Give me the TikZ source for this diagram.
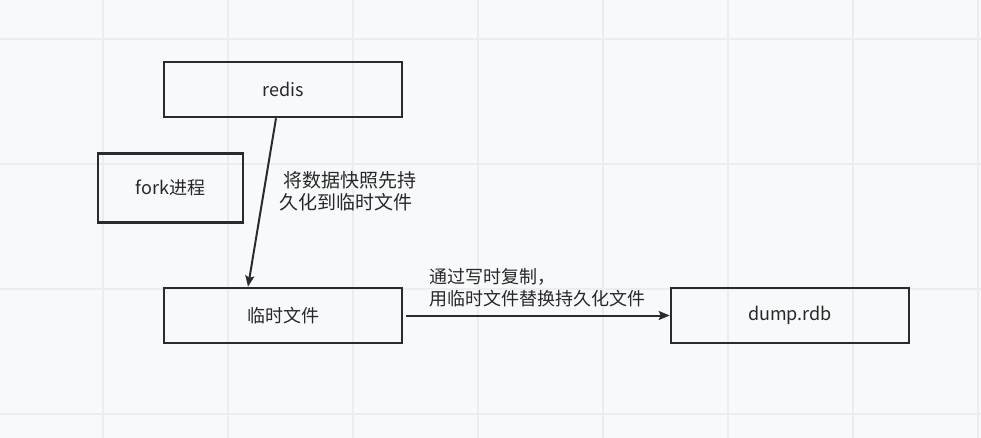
\documentclass[tikz,border=0pt]{standalone}
\usepackage{fontspec}
\setmainfont{Noto Sans CJK SC}
\usetikzlibrary{arrows.meta}
\definecolor{bgc}{RGB}{248,249,250}
\definecolor{gridc}{RGB}{236,237,239}
\definecolor{linec}{RGB}{40,43,47}
\definecolor{txtc}{RGB}{40,40,40}
\begin{document}
\begin{tikzpicture}[x=1pt,y=-1pt,
  box/.style={draw=linec,line width=2.6pt,fill=none,inner sep=0pt,
    minimum width=238pt,minimum height=55pt,text=txtc,font=\fontsize{18}{21}\selectfont},
  arr/.style={draw=linec,line width=2pt,-{Stealth[length=11pt,width=9pt,inset=2pt]}},
  lbl/.style={text=txtc,align=left,inner sep=0pt,anchor=west}]
\fill[bgc] (0,0) rectangle (981,438);
\useasboundingbox (0,0) rectangle (981,438);
\foreach \x in {103,228,353,478,603,728,853,978}
  \draw[gridc,line width=1.5pt] (\x,0) -- (\x,438);
\foreach \y in {39,164,289,414}
  \draw[gridc,line width=1.5pt] (0,\y) -- (981,\y);
\node[box] (redis) at (283,89.5) {redis};
\node[box,minimum width=145pt,minimum height=69pt] (fork) at (170.5,188) {fork进程};
\node[box] (tmp) at (283,315.5) {临时文件};
\node[box] (dump) at (790,315.5) {dump.rdb};
\draw[arr] ([xshift=-7pt]redis.south) -- ([xshift=-35pt]tmp.north);
\draw[arr] ([xshift=3pt]tmp.east) -- (dump.west);
\node[lbl,font=\fontsize{19}{22}\selectfont] (l1) at (279,191) {\hspace*{4pt}将数据快照先持\\久化到临时文件};
\node[lbl,font=\fontsize{18}{21.5}\selectfont] (l2) at (429,287.5) {通过写时复制，\\用临时文件替换持久化文件};
\end{tikzpicture}
\end{document}
